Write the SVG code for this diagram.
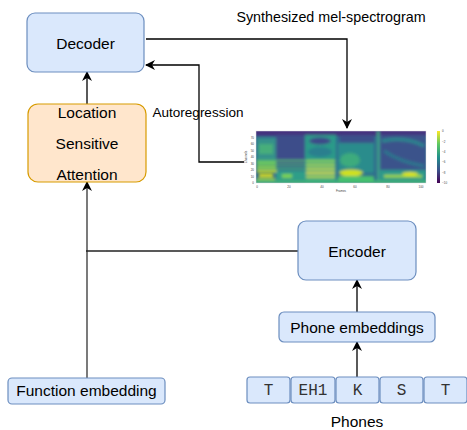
<svg xmlns="http://www.w3.org/2000/svg" width="467" height="430" viewBox="0 0 467 430">
<style>
.blue{fill:#dae8fc;stroke:#6c8ebf;stroke-width:1.2}
.orange{fill:#ffe6cc;stroke:#d79b00;stroke-width:1.2}
.lbl{font-family:"Liberation Sans",Arial,sans-serif;font-size:15.5px;fill:#000;text-anchor:middle}
.mono{font-family:"Liberation Mono","Courier New",monospace;font-size:16px;fill:#333;text-anchor:middle}
.edge{fill:none;stroke:#000;stroke-width:1.3}
.tick{font-family:"Liberation Sans",Arial,sans-serif;font-size:3px;fill:#444}
</style>
<defs>
<marker id="arr" viewBox="0 0 10 10" refX="9" refY="5" markerWidth="10" markerHeight="10" markerUnits="userSpaceOnUse" orient="auto">
<path d="M0,0 L10,5 L0,10 L3,5 z" fill="#000"/>
</marker>
<clipPath id="plot"><rect x="256" y="131" width="170" height="52"/></clipPath>
<filter id="blur" filterUnits="userSpaceOnUse" x="245" y="120" width="195" height="75"><feGaussianBlur stdDeviation="1.8"/></filter>
<linearGradient id="cbar" x1="0" y1="1" x2="0" y2="0">
<stop offset="0" stop-color="#440154"/>
<stop offset="0.25" stop-color="#3b528b"/>
<stop offset="0.5" stop-color="#21918c"/>
<stop offset="0.75" stop-color="#5ec962"/>
<stop offset="1" stop-color="#fde725"/>
</linearGradient>
</defs>

<g id="connectors">
<path class="edge" d="M87,104 L87,72" marker-end="url(#arr)"/>
<path class="edge" d="M146,39 L347,39 L347,128" marker-end="url(#arr)"/>
<path class="edge" d="M244,162 L199,162 L199,65 L146,65" marker-end="url(#arr)"/>
<path class="edge" d="M87,378 L87,182" marker-end="url(#arr)" style="stroke:#333"/>
<path class="edge" d="M298,251 L86,251" style="stroke:#222"/>
<path class="edge" d="M357,312 L357,280" marker-end="url(#arr)"/>
<path class="edge" d="M357,377 L357,342" marker-end="url(#arr)"/>
</g>

<g id="decoder">
<rect class="blue" x="27" y="13" width="117" height="59" rx="8"/>
<text class="lbl" x="85.5" y="49">Decoder</text>
</g>

<g id="attention">
<rect class="orange" x="28" y="104" width="118" height="78" rx="10"/>
<text class="lbl" x="87" y="118">Location</text>
<text class="lbl" x="87" y="149">Sensitive</text>
<text class="lbl" x="87" y="180">Attention</text>
</g>

<g id="autoregression-label">
<text class="lbl" x="198" y="117" style="font-size:13.5px">Autoregression</text>
</g>

<g id="synth-label">
<text class="lbl" x="331" y="22" style="font-size:14.3px">Synthesized mel-spectrogram</text>
</g>

<g id="spectrogram">
<g clip-path="url(#plot)">
<rect x="256" y="131" width="170" height="52" fill="#2f6a8e"/>
<g filter="url(#blur)">
<rect x="250" y="128" width="180" height="8" fill="#45307e"/>
<rect x="276" y="135" width="29" height="32" fill="#3d4e8a"/>
<rect x="380" y="135" width="46" height="38" fill="#3b528b"/>
<rect x="340" y="135" width="34" height="8" fill="#3b4f8a"/>
<rect x="257" y="138" width="19" height="24" fill="#34918a"/>
<rect x="259" y="144" width="14" height="10" fill="#46ae7a"/>
<rect x="256" y="160" width="49" height="1.3" fill="#5ec962"/>
<rect x="256" y="164" width="49" height="1.3" fill="#4cc16c"/>
<rect x="256" y="168" width="49" height="1.3" fill="#4cc16c"/>
<rect x="257" y="162" width="19" height="2" fill="#7ad151"/>
<rect x="257" y="166" width="19" height="2" fill="#9bd93c"/>
<rect x="257" y="170" width="20" height="2.5" fill="#cde11d"/>
<rect x="259" y="174" width="14" height="3" fill="#e5e419"/>
<rect x="257" y="178" width="18" height="2" fill="#a2da37"/>
<rect x="276" y="171" width="29" height="9" fill="#2d9e88"/>
<rect x="282" y="174" width="10" height="4" fill="#7ad151"/>
<rect x="305" y="135" width="31" height="47" fill="#2c9a89"/>
<ellipse cx="320" cy="141" rx="11" ry="3.5" fill="#3e4a89"/>
<ellipse cx="320" cy="152" rx="12" ry="5" fill="#2b7f8e"/>
<rect x="306" y="160" width="29" height="2" fill="#8fd744"/>
<rect x="306" y="164" width="29" height="2" fill="#a8db34"/>
<rect x="306" y="168" width="29" height="2" fill="#c2df23"/>
<rect x="306" y="172" width="29" height="2" fill="#d8e219"/>
<rect x="306" y="176" width="29" height="2" fill="#b5de2b"/>
<rect x="338" y="143" width="36" height="30" fill="#2a8c8c"/>
<ellipse cx="350" cy="160" rx="10" ry="7" fill="#3cab7d"/>
<ellipse cx="351" cy="173" rx="12" ry="3.5" fill="#d0e11c"/>
<rect x="338" y="176" width="36" height="5" fill="#4ac16d"/>
<rect x="377" y="131" width="2.5" height="52" fill="#3fa586"/>
<path d="M382,141 Q405,136 424,146" fill="none" stroke="#2c858e" stroke-width="3.5"/>
<path d="M384,151 Q400,162 424,166" fill="none" stroke="#2a788e" stroke-width="3"/>
<rect x="380" y="170" width="46" height="10" fill="#2c998a"/>
<rect x="384" y="175" width="38" height="2.5" fill="#a5db36"/>
<ellipse cx="410" cy="174" rx="8" ry="2" fill="#dde318"/>
<rect x="250" y="180.5" width="180" height="3" fill="#43be71"/>
</g>
</g>
<rect x="256" y="131" width="170" height="52" fill="none" stroke="#ddd" stroke-width="0.5"/>
<g class="tick" text-anchor="end">
<text x="254" y="184">0</text>
<text x="254" y="177.5">10</text>
<text x="254" y="171">20</text>
<text x="254" y="164.5">30</text>
<text x="254" y="158">40</text>
<text x="254" y="151.5">50</text>
<text x="254" y="145">60</text>
<text x="254" y="138.5">70</text>
</g>
<g class="tick" text-anchor="middle">
<text x="257" y="188">0</text>
<text x="289" y="188">20</text>
<text x="322" y="188">40</text>
<text x="355" y="188">60</text>
<text x="388" y="188">80</text>
<text x="421" y="188">100</text>
<text x="341" y="192">Frames</text>
<text transform="translate(247,157) rotate(-90)">Channels</text>
</g>
<rect x="437" y="131" width="3" height="52" fill="url(#cbar)"/>
<g class="tick">
<text x="442" y="132">0</text>
<text x="442" y="142.5">−2</text>
<text x="442" y="153">−4</text>
<text x="442" y="163">−6</text>
<text x="442" y="173.5">−8</text>
<text x="442" y="184">−10</text>
</g>
</g>

<g id="encoder">
<rect class="blue" x="298" y="221" width="118" height="59" rx="8"/>
<text class="lbl" x="357" y="257">Encoder</text>
</g>

<g id="phone-embeddings">
<rect class="blue" x="279" y="312" width="156" height="30" rx="5"/>
<text class="lbl" x="357" y="333">Phone embeddings</text>
</g>

<g id="function-embedding">
<rect class="blue" x="8" y="378" width="157" height="26" rx="4"/>
<text class="lbl" x="86.5" y="396">Function embedding</text>
</g>

<g id="phones">
<rect class="blue" x="247" y="377" width="43" height="26" rx="3"/>
<text class="mono" x="268.5" y="395">T</text>
<rect class="blue" x="291" y="377" width="44" height="26" rx="3"/>
<text class="mono" x="313" y="395">EH1</text>
<rect class="blue" x="336" y="377" width="43" height="26" rx="3"/>
<text class="mono" x="357.5" y="395">K</text>
<rect class="blue" x="380" y="377" width="43" height="26" rx="3"/>
<text class="mono" x="401.5" y="395">S</text>
<rect class="blue" x="424" y="377" width="43" height="26" rx="3"/>
<text class="mono" x="445.5" y="395">T</text>
<text class="lbl" x="357" y="427">Phones</text>
</g>
</svg>
